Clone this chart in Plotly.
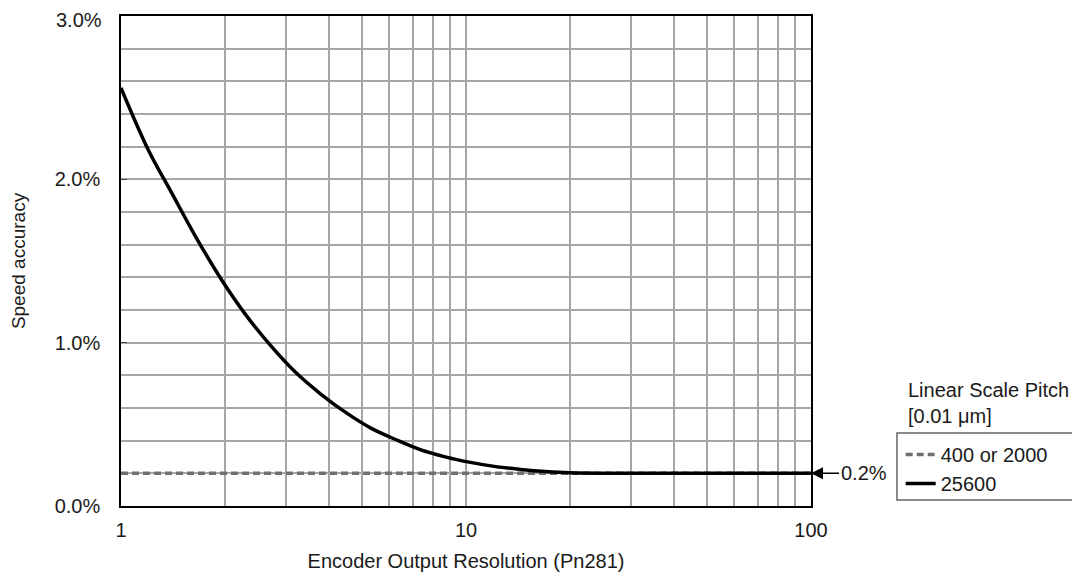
import plotly.graph_objects as go

# Encoder output resolution (Pn281) vs speed accuracy [%]
resolution = [1, 1.2, 1.4, 1.65, 1.95, 2.3, 2.72, 3.2, 3.8, 4.5, 5.3, 6.3, 7.4, 8.7,
              10.3, 12.2, 14.4, 17, 20, 30, 50, 100]
accuracy_25600 = [2.56, 2.18, 1.92, 1.645, 1.39, 1.17, 0.98, 0.82, 0.684, 0.57, 0.477,
                  0.404, 0.344, 0.301, 0.267, 0.241, 0.224, 0.211, 0.203, 0.2, 0.2, 0.2]
resolution_flat = [1, 100]
accuracy_400_2000 = [0.2, 0.2]

x_grid = [1, 2, 3, 4, 5, 6, 7, 8, 9, 10, 20, 30, 40, 50, 60, 70, 80, 90, 100]
x_labels = ["1" if v == 1 else "10" if v == 10 else "100" if v == 100 else "" for v in x_grid]
y_ticks = [0, 1, 2]
y_labels = [f"{v:.1f}%" for v in y_ticks]
y_top = 3

FONT = "Liberation Sans, Arial, sans-serif"
GRID = "#a6a6a6"
TXT = "#1a1a1a"
FS = 20

fig = go.Figure()
fig.add_trace(go.Scatter(
    x=resolution_flat, y=accuracy_400_2000, mode="lines",
    name="400 or 2000",
    line=dict(color="#707070", width=3.5, dash="7px,4px"),
))
fig.add_trace(go.Scatter(
    x=resolution, y=accuracy_25600, mode="lines",
    name="25600",
    line=dict(color="black", width=3.5, shape="spline", smoothing=1.0),
))

# page body has an 8px margin, so the figure is 8px smaller than the window
fig.update_layout(
    width=1072, height=565,
    margin=dict(l=113, r=269, t=8, b=67, autoexpand=False),
    paper_bgcolor="white", plot_bgcolor="white",
    font=dict(family=FONT, size=FS, color=TXT),
    showlegend=True,
    legend=dict(
        x=1.13, y=0.145, xanchor="left", yanchor="top",
        bgcolor="rgba(0,0,0,0)", borderwidth=0,
        font=dict(size=FS, color=TXT), tracegroupgap=0,
    ),
    xaxis=dict(
        type="log", range=[0, 2],
        tickvals=x_grid, ticktext=x_labels, tickfont=dict(size=FS, color=TXT),
        showgrid=True, gridcolor=GRID, gridwidth=1.5,
        showline=True, linecolor="black", linewidth=1.5, mirror=True,
        ticks="", ticklabelstandoff=5, automargin=False,
        title=dict(text="Encoder Output Resolution (Pn281)", standoff=14,
                   font=dict(size=FS, color=TXT)),
        zeroline=False,
    ),
    yaxis=dict(
        range=[0, y_top], tickvals=y_ticks, ticktext=y_labels,
        tickfont=dict(size=FS, color=TXT),
        showgrid=True, gridcolor=GRID, gridwidth=1.5,
        minor=dict(dtick=0.2, showgrid=True, gridcolor=GRID, gridwidth=1.5, ticks=""),
        showline=True, linecolor="black", linewidth=1.5, mirror=True,
        ticks="inside", ticklen=6, tickcolor="#444", ticklabelstandoff=15,
        automargin=False,
        title=dict(text="Speed accuracy", standoff=36, font=dict(size=19, color=TXT)),
        zeroline=False,
    ),
)

# top y label, nudged down a little so it is not clipped at the page top
fig.add_annotation(
    xref="paper", yref="y", x=0, y=y_top, xanchor="right", yanchor="middle",
    xshift=-17, yshift=-4, showarrow=False,
    text=f"{y_top:.1f}%", font=dict(size=FS, color=TXT),
)

# legend title sits above the framed legend box
fig.add_annotation(
    xref="paper", yref="paper", x=1.138, y=0.158,
    xanchor="left", yanchor="bottom", align="left", showarrow=False,
    text="Linear Scale Pitch<br>[0.01 \u03bcm]", font=dict(size=FS, color=TXT),
)
fig.add_shape(
    type="rect", xref="paper", yref="paper",
    x0=1.1246, x1=1.6, y0=0.012, y1=0.149,
    line=dict(color="#666", width=1.5),
)

# 0.2% marker on the right
fig.add_annotation(
    x=2, y=0.2, xref="x", yref="y",
    text="0.2%", showarrow=True, ax=28, ay=0, xanchor="left",
    arrowhead=2, arrowsize=1.6, arrowwidth=1.5, arrowcolor="black",
    font=dict(size=FS, color=TXT), standoff=0,
)

fig.write_html("out.html")
